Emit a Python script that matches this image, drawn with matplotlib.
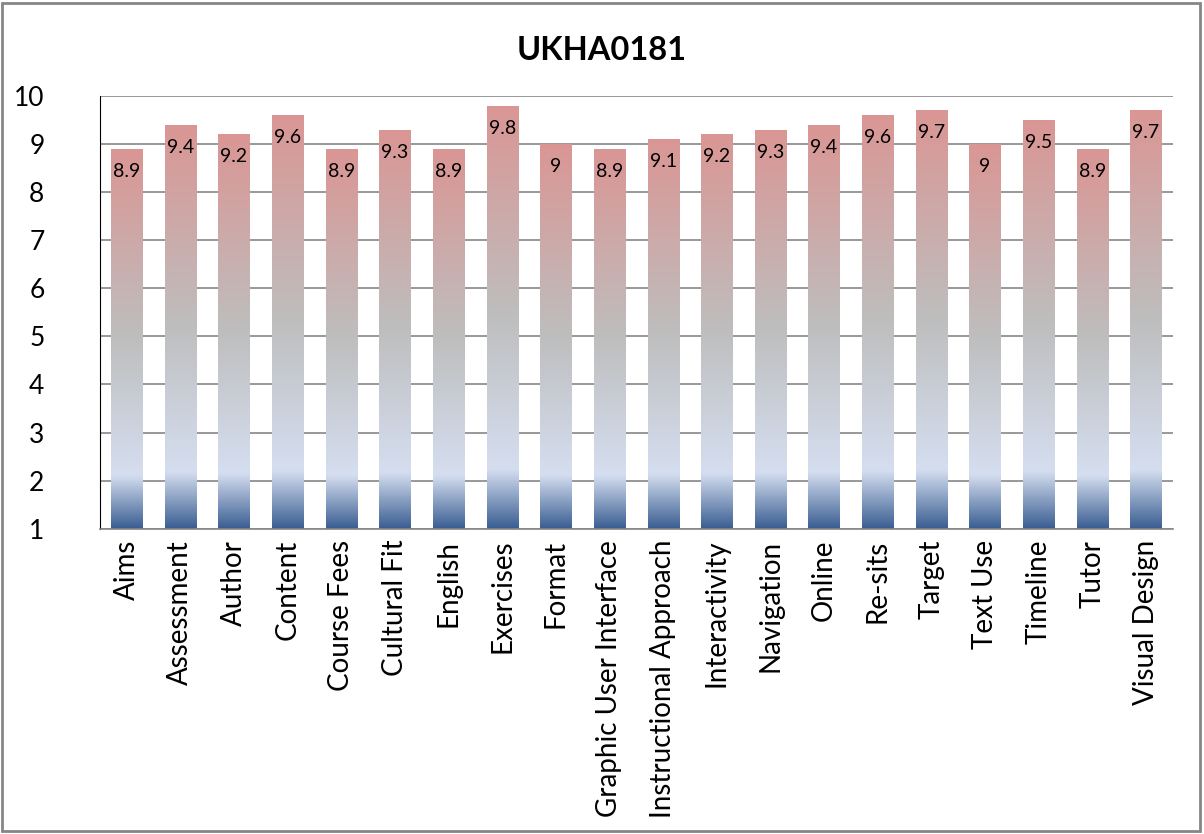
import matplotlib.pyplot as plt
import numpy as np
from matplotlib.colors import LinearSegmentedColormap
from matplotlib.patches import Rectangle

categories = ['Aims', 'Assessment', 'Author', 'Content', 'Course Fees', 'Cultural Fit',
              'English', 'Exercises', 'Format', 'Graphic User Interface',
              'Instructional Approach', 'Interactivity', 'Navigation', 'Online',
              'Re-sits', 'Target', 'Text Use', 'Timeline', 'Tutor', 'Visual Design']
scores = [8.9, 9.4, 9.2, 9.6, 8.9, 9.3, 8.9, 9.8, 9.0, 8.9,
          9.1, 9.2, 9.3, 9.4, 9.6, 9.7, 9.0, 9.5, 8.9, 9.7]
score_labels = ['8.9', '9.4', '9.2', '9.6', '8.9', '9.3', '8.9', '9.8', '9', '8.9',
                '9.1', '9.2', '9.3', '9.4', '9.6', '9.7', '9', '9.5', '8.9', '9.7']

plt.rcParams['font.family'] = ['Lato', 'DejaVu Sans']

# gradient like the excel fill: dark blue -> pale blue -> grey -> pink
grad = LinearSegmentedColormap.from_list('fill', [
    (0.0, '#3a5e92'), (0.14, '#d5def0'), (0.5, '#bebebe'), (1.0, '#da9694')])
g = np.linspace(0, 1, 256).reshape(-1, 1)

fig = plt.figure(figsize=(12.04, 8.34), dpi=100)
ax = fig.add_axes([0.083, 0.366, 0.891, 0.519])

bottom = 1
width = 0.58
x = np.arange(len(categories))
bars = ax.bar(x, np.array(scores) - bottom, bottom=bottom, width=width, color='none')
for b, lab in zip(bars, score_labels):
    x0, y0 = b.get_x(), b.get_y()
    w, h = b.get_width(), b.get_height()
    im = ax.imshow(g, cmap=grad, origin='lower', aspect='auto',
                   extent=[x0, x0 + w, y0, y0 + h], zorder=2)
    im.set_clip_path(Rectangle((x0, y0), w, h, transform=ax.transData))
    ax.text(x0 + w / 2, y0 + h - 0.47, lab, ha='center', va='center', fontsize=14, zorder=3)

ax.set_xlim(-0.5, len(categories) - 0.5)
ax.set_ylim(1, 10)
ax.set_yticks(range(1, 11))
ax.yaxis.grid(True, color='#868686', linewidth=1.2)
ax.set_axisbelow(True)
ax.set_xticks(x)
ax.set_xticklabels(categories, rotation=90, fontsize=20)
ax.tick_params(axis='y', labelsize=19, length=0, pad=40)
ax.tick_params(axis='x', length=0, pad=8)
for s in ['top', 'right']:
    ax.spines[s].set_visible(False)
ax.spines['left'].set_color('black')
ax.spines['bottom'].set_color('#868686')
ax.spines['bottom'].set_linewidth(1.2)

fig.suptitle('UKHA0181', y=0.957, fontsize=23.5, fontweight='bold')
fig.add_artist(Rectangle((0.002, 0.003), 0.995, 0.994, transform=fig.transFigure,
                         fill=False, edgecolor='#868686', linewidth=2))

plt.savefig('out.png', dpi=100)
